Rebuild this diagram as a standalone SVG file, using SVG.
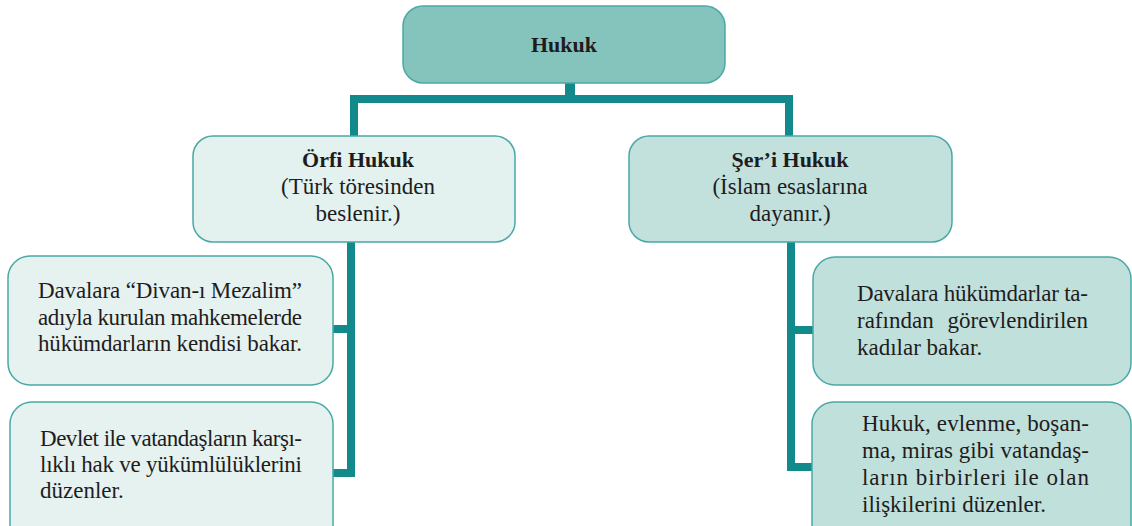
<svg xmlns="http://www.w3.org/2000/svg" width="1132" height="526" viewBox="0 0 1132 526">
<style>
.box{stroke:#4aa8a6;stroke-width:1.5}
.t{font-family:'Liberation Serif','DejaVu Serif',serif;font-size:23px;fill:#1f1c1d}
.b{font-weight:bold;font-size:22px}
.c{text-anchor:middle}
.e{text-anchor:end}
.ln{fill:#12898b}
</style>
<rect width="1132" height="526" fill="#ffffff"/>
<g id="connectors">
<rect class="ln" x="565" y="82" width="10" height="15"/>
<rect class="ln" x="350" y="95" width="443" height="8"/>
<rect class="ln" x="350" y="95" width="8" height="42"/>
<rect class="ln" x="785" y="95" width="8" height="42"/>
<rect class="ln" x="347" y="241" width="8" height="236"/>
<rect class="ln" x="332" y="325" width="20" height="8"/>
<rect class="ln" x="332" y="469" width="23" height="8"/>
<rect class="ln" x="787" y="241" width="8" height="230"/>
<rect class="ln" x="790" y="326" width="24" height="8"/>
<rect class="ln" x="787" y="463" width="26" height="8"/>
</g>
<g id="hukuk">
<rect class="box" x="403" y="6" width="322" height="77" rx="20" fill="#85c4bd"/>
<text class="t b c" x="564" y="52">Hukuk</text>
</g>
<g id="orfi">
<rect class="box" x="193" y="136" width="322" height="106" rx="20" fill="#e3f1ef"/>
<text class="t b c" x="358" y="167">Örfi Hukuk</text>
<text class="t c" x="358" y="194">(Türk töresinden</text>
<text class="t c" x="358" y="221">beslenir.)</text>
</g>
<g id="seri">
<rect class="box" x="629" y="136" width="323" height="106" rx="20" fill="#c2e1dd"/>
<text class="t b c" x="790" y="167">Şer’i Hukuk</text>
<text class="t c" x="790" y="194">(İslam esaslarına</text>
<text class="t c" x="790" y="221">dayanır.)</text>
</g>
<g id="orfi-1">
<rect class="box" x="8" y="256" width="325" height="129" rx="22" fill="#e5f2f0"/>
<text class="t" x="38" y="298" textLength="264" lengthAdjust="spacing">Davalara “Divan-ı Mezalim”</text>
<text class="t" x="38" y="325" textLength="264" lengthAdjust="spacing">adıyla kurulan mahkemelerde</text>
<text class="t" x="38" y="351" textLength="264" lengthAdjust="spacing">hükümdarların kendisi bakar.</text>
</g>
<g id="orfi-2">
<rect class="box" x="10" y="402" width="323" height="160" rx="22" fill="#e5f2f0"/>
<text class="t" x="40" y="446" textLength="262" lengthAdjust="spacing">Devlet ile vatandaşların karşı-</text>
<text class="t" x="40" y="472" textLength="262" lengthAdjust="spacing">lıklı hak ve yükümlülüklerini</text>
<text class="t" x="40" y="498">düzenler.</text>
</g>
<g id="seri-1">
<rect class="box" x="813" y="257" width="318" height="128" rx="22" fill="#c0e0dc"/>
<text class="t" x="857" y="301" textLength="231" lengthAdjust="spacing">Davalara hükümdarlar ta-</text>
<text class="t" x="857" y="328">rafından</text>
<text class="t e" x="1088" y="328">görevlendirilen</text>
<text class="t" x="857" y="355">kadılar bakar.</text>
</g>
<g id="seri-2">
<rect class="box" x="812" y="402" width="319" height="160" rx="22" fill="#c0e0dc"/>
<text class="t" x="862" y="431" textLength="227" lengthAdjust="spacing">Hukuk, evlenme, boşan-</text>
<text class="t" x="862" y="458" textLength="227" lengthAdjust="spacing">ma, miras gibi vatandaş-</text>
<text class="t" x="862" y="485" textLength="227" lengthAdjust="spacing">ların birbirleri ile olan</text>
<text class="t" x="862" y="512">ilişkilerini düzenler.</text>
</g>
</svg>
